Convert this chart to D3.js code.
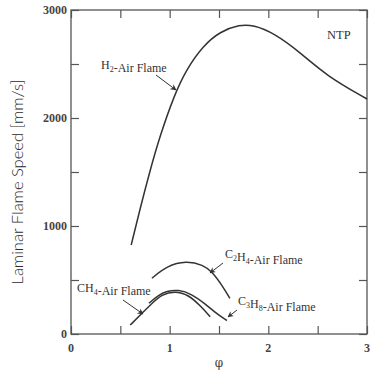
<!DOCTYPE html>
<html>
<head>
<meta charset="utf-8">
<script src="https://cdn.jsdelivr.net/npm/d3@7"></script>
<style>
  body { margin: 0; background: #fff; }
  svg { display: block; }
</style>
</head>
<body>
<div id="container"></div>
<script>
let w = 373;
let h = 373;

// equivalence ratio (phi) vs laminar flame speed
let h2Phi = [0.61, 0.70, 0.80, 0.90, 1.05, 1.17, 1.34, 1.51, 1.71, 1.85, 2.05, 2.32, 2.59, 3.0];
let h2Speed = [824, 1160, 1510, 1830, 2220, 2450, 2670, 2800, 2865, 2860, 2790, 2610, 2390, 2176];

let c2h4Phi = [0.82, 0.97, 1.17, 1.34, 1.43, 1.54, 1.61];
let c2h4Speed = [516, 630, 678, 639, 577, 438, 330];

let ch4Phi = [0.60, 0.72, 0.82, 0.92, 1.05, 1.19, 1.32, 1.41];
let ch4Speed = [83, 191, 284, 365, 398, 365, 253, 160];

let c3h8Phi = [0.79, 0.88, 0.97, 1.09, 1.22, 1.36, 1.48, 1.58];
let c3h8Speed = [285, 355, 398, 410, 372, 280, 185, 125];

let xTicks = [0, 0.5, 1, 1.5, 2, 2.5, 3];
let xTickLabels = [0, 1, 2, 3];
let yTicks = [0, 500, 1000, 1500, 2000, 2500, 3000];
let yTickLabels = [0, 1000, 2000, 3000];

let pLeft = 71, pRight = 367, pTop = 10, pBottom = 334;

let x = d3.scaleLinear().domain([0, 3]).range([pLeft, pRight]);
let y = d3.scaleLinear().domain([0, 3000]).range([pBottom, pTop]);

let viz = d3.select("#container")
  .append("svg")
  .attr("width", w)
  .attr("height", h);

let defs = viz.append("defs");
defs.append("marker")
  .attr("id", "arrow")
  .attr("viewBox", "0 0 10 10")
  .attr("refX", 9)
  .attr("refY", 5)
  .attr("markerWidth", 6)
  .attr("markerHeight", 6)
  .attr("markerUnits", "userSpaceOnUse")
  .attr("orient", "auto")
  .append("path")
  .attr("d", "M0,0 L10,5 L0,10 L3,5 Z")
  .attr("fill", "#333");

let frameColor = "#555";

// ticks on all four sides, pointing inward
let axisG = viz.append("g");
axisG.append("g")
  .attr("transform", `translate(0,${pBottom})`)
  .call(d3.axisTop(x).tickValues(xTicks).tickSize(8).tickFormat(""));
axisG.append("g")
  .attr("transform", `translate(0,${pTop})`)
  .call(d3.axisBottom(x).tickValues(xTicks).tickSize(8).tickFormat(""));
axisG.append("g")
  .attr("transform", `translate(${pLeft},0)`)
  .call(d3.axisRight(y).tickValues(yTicks).tickSize(8).tickFormat(""));
axisG.append("g")
  .attr("transform", `translate(${pRight},0)`)
  .call(d3.axisLeft(y).tickValues(yTicks).tickSize(8).tickFormat(""));
axisG.selectAll(".domain").remove();
axisG.selectAll(".tick line").attr("stroke", frameColor).attr("stroke-width", 1.2);

viz.append("rect")
  .attr("x", pLeft)
  .attr("y", pTop)
  .attr("width", pRight - pLeft)
  .attr("height", pBottom - pTop)
  .attr("fill", "none")
  .attr("stroke", frameColor)
  .attr("stroke-width", 1.3);

// tick labels
viz.selectAll(".xlab").data(xTickLabels).enter()
  .append("text")
  .attr("class", "xlab")
  .attr("x", d => x(d))
  .attr("y", pBottom + 18)
  .attr("text-anchor", "middle")
  .attr("font-family", "Liberation Serif")
  .attr("font-weight", "bold")
  .attr("font-size", 12)
  .attr("fill", "#444")
  .text(d => d);

viz.selectAll(".ylab").data(yTickLabels).enter()
  .append("text")
  .attr("class", "ylab")
  .attr("x", pLeft - 4)
  .attr("y", d => y(d) + 4)
  .attr("text-anchor", "end")
  .attr("font-family", "Liberation Serif")
  .attr("font-weight", "bold")
  .attr("font-size", 12)
  .attr("fill", "#444")
  .text(d => d);

viz.append("text")
  .attr("x", (pLeft + pRight) / 2)
  .attr("y", 367)
  .attr("text-anchor", "middle")
  .attr("font-family", "DejaVu Serif")
  .attr("font-size", 12)
  .attr("fill", "#444")
  .text("\u03C6");

viz.append("text")
  .attr("transform", "translate(23,182) rotate(-90)")
  .attr("text-anchor", "middle")
  .attr("font-family", "Lato")
  .attr("font-weight", 300)
  .attr("font-size", 16.5)
  .attr("fill", "#2a2a2a")
  .text("Laminar Flame Speed [mm/s]");

// curves
let line = d3.line()
  .x(d => x(d[0]))
  .y(d => y(d[1]))
  .curve(d3.curveBasis);

let series = [
  [h2Phi, h2Speed],
  [c2h4Phi, c2h4Speed],
  [ch4Phi, ch4Speed],
  [c3h8Phi, c3h8Speed]
];

viz.selectAll(".curve").data(series).enter()
  .append("path")
  .attr("class", "curve")
  .attr("d", s => line(d3.zip(s[0], s[1])))
  .attr("fill", "none")
  .attr("stroke", "#333")
  .attr("stroke-width", 1.5);

// labels with arrows; {s: "2"} marks a subscript
function label(parts, tx, ty, x1, y1, x2, y2) {
  let t = viz.append("text")
    .attr("x", tx)
    .attr("y", ty)
    .attr("font-family", "Liberation Serif")
    .attr("font-size", 12)
    .attr("fill", "#333");
  parts.forEach(p => {
    if (typeof p === "object") {
      t.append("tspan").attr("dy", 3).attr("font-size", 8).text(p.s);
      t.append("tspan").attr("dy", -3).text("");
    } else {
      t.append("tspan").text(p);
    }
  });
  viz.append("line")
    .attr("x1", x1).attr("y1", y1)
    .attr("x2", x2).attr("y2", y2)
    .attr("stroke", "#333")
    .attr("stroke-width", 1)
    .attr("marker-end", "url(#arrow)");
}

label(["H", {s: "2"}, "-Air Flame"], 101, 69, 156, 75, 176, 90);
label(["C", {s: "2"}, "H", {s: "4"}, "-Air Flame"], 225, 258, 223, 263, 210, 273);
label(["CH", {s: "4"}, "-Air Flame"], 77, 292, 123, 300, 143, 314);
label(["C", {s: "3"}, "H", {s: "8"}, "-Air Flame"], 238, 305, 237, 310, 228, 317);

viz.append("text")
  .attr("x", 327)
  .attr("y", 39)
  .attr("font-family", "Liberation Serif")
  .attr("font-size", 12.5)
  .attr("fill", "#333")
  .text("NTP");
</script>
</body>
</html>
